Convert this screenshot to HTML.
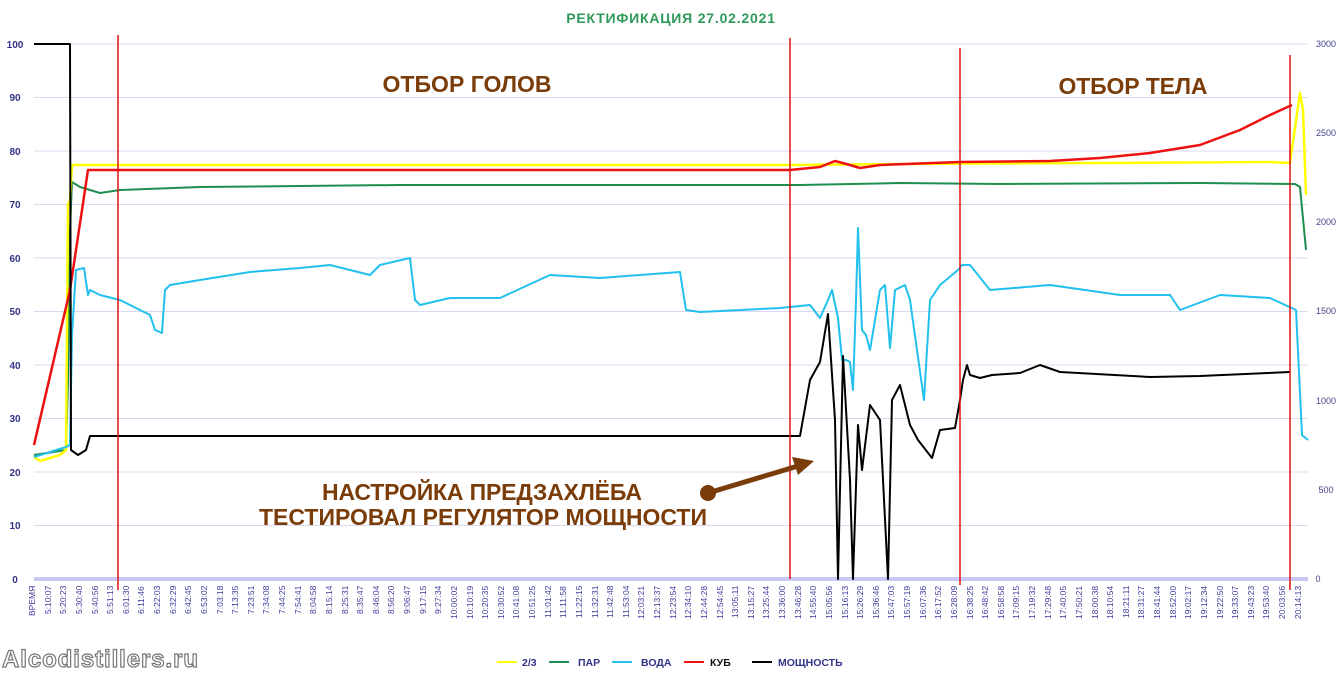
<!DOCTYPE html>
<html><head><meta charset="utf-8"><style>
body{margin:0;width:1344px;height:674px;background:#fff;overflow:hidden;position:relative;font-family:"Liberation Sans",sans-serif}
.xl{position:absolute;left:28px;width:1275px;top:586px;height:60px;display:flex;justify-content:space-between}
.xl span{writing-mode:vertical-rl;transform:rotate(180deg);font-size:8.5px;color:#3a3a9a;white-space:nowrap;text-align:right;line-height:9px}
</style></head><body>
<svg width="1344" height="674" style="position:absolute;left:0;top:0" font-family="Liberation Sans, sans-serif">
<g stroke="#d8d8ee" stroke-width="1">
<line x1="34" y1="44" x2="1308" y2="44"/><line x1="34" y1="97.5" x2="1308" y2="97.5"/><line x1="34" y1="151" x2="1308" y2="151"/><line x1="34" y1="204.5" x2="1308" y2="204.5"/><line x1="34" y1="258" x2="1308" y2="258"/><line x1="34" y1="311.5" x2="1308" y2="311.5"/><line x1="34" y1="365" x2="1308" y2="365"/><line x1="34" y1="418.5" x2="1308" y2="418.5"/><line x1="34" y1="472" x2="1308" y2="472"/><line x1="34" y1="525.5" x2="1308" y2="525.5"/>
</g>
<rect x="34" y="577" width="1274" height="4" fill="#c8c8f4"/>
<g font-size="10" font-weight="bold" fill="#333388" text-anchor="middle">
<text x="15" y="48">100</text><text x="15" y="101">90</text><text x="15" y="155">80</text><text x="15" y="208">70</text><text x="15" y="262">60</text><text x="15" y="315">50</text><text x="15" y="369">40</text><text x="15" y="422">30</text><text x="15" y="476">20</text><text x="15" y="529">10</text><text x="15" y="583">0</text>
</g>
<g font-size="9" fill="#444488" text-anchor="middle">
<text x="1326" y="47">3000</text><text x="1326" y="136">2500</text><text x="1326" y="225">2000</text><text x="1326" y="314">1500</text><text x="1326" y="404">1000</text><text x="1326" y="493">500</text><text x="1318" y="582">0</text>
</g>
<g fill="none" stroke-width="2.5" stroke-linejoin="round">
<polyline stroke="#1f8f4f" stroke-width="2" points="34,455 66,450 68,380 70,230 72,182 80,187 90,190 100,193 120,190 200,187 400,185 800,185 900,183 1000,184 1200,183 1295,184 1300,187 1306,250"/>
<polyline stroke="#ffff00" points="34,457 40,461 60,455 66,450 68,205 70,200 72,165 80,165 790,165 900,164 1100,163 1270,162 1290,163 1300,93 1303,110 1306,195"/>
<polyline stroke="#ee1111" points="34,445 70,290 88,170 120,170 790,170 820,167 835,161 850,165 860,168 880,165 960,162 1050,161 1100,158 1150,153 1200,145 1240,130 1270,115 1292,105"/>
<polyline stroke="#22c0ee" stroke-width="2" points="34,457 66,447 70,445 72,335 76,270 84,268 88,295 90,290 100,295 120,300 150,315 155,330 162,333 165,290 170,285 200,280 250,272 300,268 330,265 370,275 380,265 410,258 415,300 420,305 450,298 500,298 550,275 600,278 680,272 686,310 700,312 780,308 810,305 820,318 828,300 832,290 838,318 842,360 846,360 850,362 853,390 856,300 858,228 862,330 866,335 870,350 880,290 885,285 890,348 895,290 905,285 910,300 917,350 924,400 930,300 940,285 958,270 962,265 970,265 990,290 1050,285 1120,295 1170,295 1180,310 1220,295 1270,298 1296,310 1302,435 1308,440"/>
<polyline stroke="#000" stroke-width="2" points="34,44 70,44 71,450 78,455 86,450 90,436 800,436 810,380 820,362 828,314 835,420 838,579 843,356 850,480 853,579 858,425 862,470 870,405 880,420 888,579 892,400 900,385 910,425 918,440 932,458 940,430 955,428 960,400 963,380 967,365 970,375 980,378 992,375 1020,373 1040,365 1060,372 1150,377 1200,376 1290,372"/>
</g>
<g stroke="#dd1111" stroke-width="1.5">
<line x1="118" y1="35" x2="118" y2="590"/><line x1="790" y1="38" x2="790" y2="579"/><line x1="960" y1="48" x2="960" y2="585"/><line x1="1290" y1="55" x2="1290" y2="590"/>
</g>
<text x="671" y="23" font-size="14" font-weight="bold" fill="#2e9a5a" text-anchor="middle" letter-spacing="0.8">РЕКТИФИКАЦИЯ  27.02.2021</text>
<g font-size="23" font-weight="bold" fill="#7a3c08" text-anchor="middle">
<text x="467" y="92" textLength="169">ОТБОР ГОЛОВ</text>
<text x="1133" y="94" textLength="149">ОТБОР ТЕЛА</text>
<text x="482" y="500" textLength="320">НАСТРОЙКА ПРЕДЗАХЛЁБА</text>
<text x="483" y="525" textLength="448">ТЕСТИРОВАЛ РЕГУЛЯТОР МОЩНОСТИ</text>
</g>
<circle cx="708" cy="493" r="8" fill="#7a3c08"/>
<line x1="708" y1="493" x2="798" y2="466" stroke="#7a3c08" stroke-width="5"/>
<polygon points="814,461 792,457 798,475" fill="#7a3c08"/>
<g font-size="10.5" font-weight="bold" fill="#333388">
<line x1="497" y1="662" x2="517" y2="662" stroke="#ffff00" stroke-width="2"/><text x="522" y="666">2/3</text>
<line x1="549" y1="662" x2="569" y2="662" stroke="#1f8f4f" stroke-width="2"/><text x="578" y="666">ПАР</text>
<line x1="612" y1="662" x2="632" y2="662" stroke="#22c0ee" stroke-width="2"/><text x="641" y="666">ВОДА</text>
<line x1="684" y1="662" x2="704" y2="662" stroke="#ee1111" stroke-width="2"/><text x="710" y="666" fill="#111">КУБ</text>
<line x1="752" y1="662" x2="772" y2="662" stroke="#000" stroke-width="2"/><text x="778" y="666">МОЩНОСТЬ</text>
</g>
<text x="2" y="667" font-size="24" font-weight="bold" fill="#fff" stroke="#777" stroke-width="1.2" textLength="196">Alcodistillers.ru</text>
</svg>
<div class="xl">
<span>ВРЕМЯ</span><span>5:10:07</span><span>5:20:23</span><span>5:30:40</span><span>5:40:56</span><span>5:51:13</span><span>6:01:30</span><span>6:11:46</span><span>6:22:03</span><span>6:32:29</span><span>6:42:45</span><span>6:53:02</span><span>7:03:18</span><span>7:13:35</span><span>7:23:51</span><span>7:34:08</span><span>7:44:25</span><span>7:54:41</span><span>8:04:58</span><span>8:15:14</span><span>8:25:31</span><span>8:35:47</span><span>8:46:04</span><span>8:56:20</span><span>9:06:47</span><span>9:17:15</span><span>9:27:34</span><span>10:00:02</span><span>10:10:19</span><span>10:20:35</span><span>10:30:52</span><span>10:41:08</span><span>10:51:25</span><span>11:01:42</span><span>11:11:58</span><span>11:22:15</span><span>11:32:31</span><span>11:42:48</span><span>11:53:04</span><span>12:03:21</span><span>12:13:37</span><span>12:23:54</span><span>12:34:10</span><span>12:44:28</span><span>12:54:45</span><span>13:05:11</span><span>13:15:27</span><span>13:25:44</span><span>13:36:00</span><span>13:46:28</span><span>14:55:40</span><span>15:05:56</span><span>15:16:13</span><span>15:26:29</span><span>15:36:46</span><span>15:47:03</span><span>15:57:19</span><span>16:07:36</span><span>16:17:52</span><span>16:28:09</span><span>16:38:25</span><span>16:48:42</span><span>16:58:58</span><span>17:09:15</span><span>17:19:32</span><span>17:29:48</span><span>17:40:05</span><span>17:50:21</span><span>18:00:38</span><span>18:10:54</span><span>18:21:11</span><span>18:31:27</span><span>18:41:44</span><span>18:52:00</span><span>19:02:17</span><span>19:12:34</span><span>19:22:50</span><span>19:33:07</span><span>19:43:23</span><span>19:53:40</span><span>20:03:56</span><span>20:14:13</span>
</div>
</body></html>
